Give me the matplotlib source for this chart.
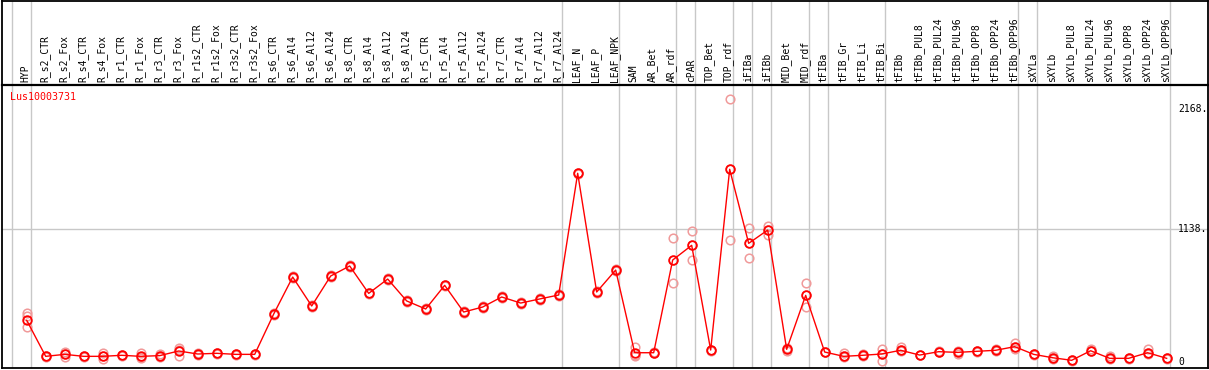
import matplotlib
matplotlib.use("Agg")
import matplotlib.pyplot as plt
import matplotlib.transforms as mtransforms

title = "Lus10003731"

categories = [
    "HYP", "R_s2_CTR", "R_s2_Fox", "R_s4_CTR", "R_s4_Fox", "R_r1_CTR", "R_r1_Fox",
    "R_r3_CTR", "R_r3_Fox", "R_r1s2_CTR", "R_r1s2_Fox", "R_r3s2_CTR", "R_r3s2_Fox",
    "R_s6_CTR", "R_s6_Al4", "R_s6_Al12", "R_s6_Al24", "R_s8_CTR", "R_s8_Al4",
    "R_s8_Al12", "R_s8_Al24", "R_r5_CTR", "R_r5_Al4", "R_r5_Al12", "R_r5_Al24",
    "R_r7_CTR", "R_r7_Al4", "R_r7_Al12", "R_r7_Al24", "LEAF_N", "LEAF_P", "LEAF_NPK",
    "SAM", "AR_Bet", "AR_rdf", "cPAR", "TOP_Bet", "TOP_rdf", "iFIBa", "iFIBb",
    "MID_Bet", "MID_rdf", "tFIBa", "tFIB_Gr", "tFIB_Li", "tFIB_Bi", "tFIBb",
    "tFIBb_PUL8", "tFIBb_PUL24", "tFIBb_PUL96", "tFIBb_OPP8", "tFIBb_OPP24",
    "tFIBb_OPP96", "sXYLa", "sXYLb", "sXYLb_PUL8", "sXYLb_PUL24", "sXYLb_PUL96",
    "sXYLb_OPP8", "sXYLb_OPP24", "sXYLb_OPP96",
]

means = [
    355, 46, 63, 46, 46, 55, 46, 52, 92, 66, 72, 63, 63,
    409, 726, 478, 735, 821, 586, 709, 521, 452, 655, 426, 469,
    555, 503, 538, 572, 1616, 598, 786,
    77, 77, 872, 998, 100, 1650, 1015, 1129,
    106, 569, 83, 46, 55, 66, 98,
    57, 86, 80, 89, 98, 129,
    63, 34, 12, 94, 29, 29, 77, 29,
]

replicates = [
    [415, 390, 300], [46, 44, 48], [86, 38, 63], [46, 44, 48], [72, 20, 46],
    [55, 52, 58], [72, 30, 40], [63, 38, 52], [120, 49, 100], [72, 60, 66],
    [72, 70, 74], [63, 60, 66], [63, 60, 66],
    [409, 400, 418], [726, 720, 732], [478, 470, 486], [735, 730, 740],
    [821, 815, 827], [586, 580, 592], [709, 700, 716], [521, 515, 527],
    [452, 446, 458], [655, 648, 662], [426, 420, 432], [469, 462, 476],
    [555, 548, 562], [503, 496, 510], [538, 532, 544], [572, 566, 578],
    [1616, 1610, 1622], [598, 592, 604], [786, 780, 792],
    [123, 49, 60], [77, 74, 80], [1061, 672, 872], [1121, 870, 998],
    [100, 96, 104], [2255, 1044, 1650], [1144, 889, 1015], [1166, 1087, 1129],
    [118, 95, 106], [672, 467, 569], [83, 80, 86], [77, 40, 46], [70, 45, 55],
    [112, 6, 66], [123, 98, 92],
    [57, 54, 60], [86, 83, 89], [95, 70, 80], [89, 86, 92], [112, 98, 90],
    [158, 129, 112],
    [63, 60, 66], [50, 30, 22], [12, 10, 15], [108, 94, 88], [45, 22, 29],
    [29, 26, 32], [106, 77, 70], [29, 26, 32],
]

group_ends = [-1, 0, 28, 31, 34, 35, 37, 38, 39, 41, 42, 45, 52, 53, 60]
grid_value = 1138
axis_labels = [0, 1138, 2168]

W, H = 1209, 370
fig = plt.figure(figsize=(W / 100, H / 100), dpi=100)
fig.patch.set_facecolor("white")

left = 1.7 / W
width = 1206 / W
ax = fig.add_axes([left, 2 / H, width, 283 / H])
axt = fig.add_axes([left, 285 / H, width, 84 / H])

xlim = (-1.316, 62.16)
for a in (ax, axt):
    a.set_xlim(*xlim)
    a.set_xticks([])
    a.set_yticks([])
    for s in a.spines.values():
        s.set_color("black")
        s.set_linewidth(1.3)
    for g in group_ends:
        a.axvline(g + 0.2, color="#c8c8c8", lw=1.0, zorder=0)

ax.set_ylim(-54, 2373)
axt.set_ylim(0, 1)
axt.spines["bottom"].set_linewidth(1.6)

ax.axhline(grid_value, color="#c8c8c8", lw=1.0, zorder=0)

x = list(range(len(categories)))

# replicate points
for i, reps in enumerate(replicates):
    ax.plot([i] * len(reps), reps, linestyle="none", marker="o", ms=6.2,
            mfc="none", mec="#f09a9a", mew=1.1, zorder=2)

ax.plot(x, means, color="#ff0000", lw=1.0, zorder=3)
ax.plot(x, means, linestyle="none", marker="o", ms=6.2, mfc="none",
        mec="#ff0000", mew=1.3, zorder=4)

mono = "DejaVu Sans Mono"
for i, lab in enumerate(categories):
    axt.text(i - 0.05, 0.03, lab, rotation=90, ha="center", va="bottom",
             fontsize=7, family=mono, color="black")

trans = mtransforms.blended_transform_factory(ax.transAxes, ax.transData)
for v in axis_labels:
    txt = f"{v}." if v != 0 else "0"
    ax.text((1178 - 1.7) / 1206, v, txt, transform=trans, ha="left", va="center",
            fontsize=7, family=mono, color="black")

ax.text((10 - 1.7) / 1206, 0.9576, title, transform=ax.transAxes, ha="left",
        va="center", fontsize=7.2, family=mono, color="#ff0000")

fig.savefig("out.png", dpi=100, facecolor="white")
